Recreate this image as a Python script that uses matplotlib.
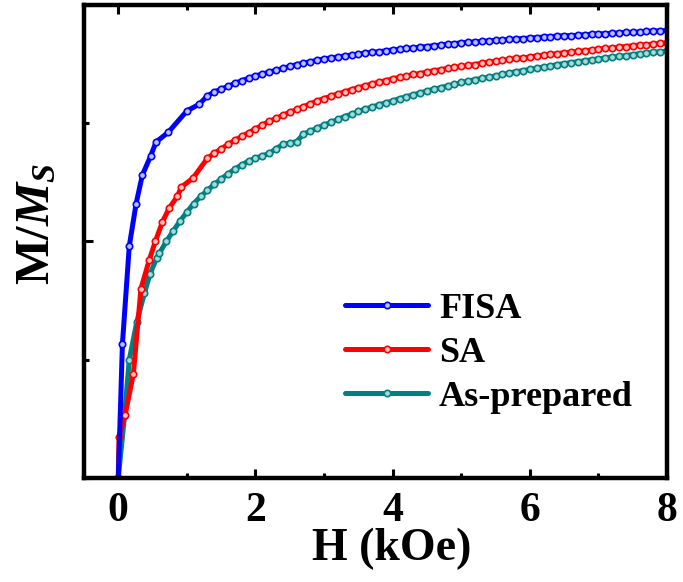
import matplotlib
matplotlib.use("Agg")
import matplotlib.pyplot as plt
from matplotlib.ticker import MultipleLocator

plt.rcParams.update({
    "font.family": "Liberation Serif",
    "font.weight": "bold",
    "mathtext.fontset": "custom",
    "mathtext.rm": "Liberation Serif:bold",
    "mathtext.it": "Liberation Serif:italic:bold",
    "mathtext.bf": "Liberation Serif:bold",
})

BLUE = "#0000FF"; RED = "#FF0000"; TEAL = "#008080"

# ---- data (H in kOe, M/Ms) ----
H_fisa = [0, 0.06, 0.16, 0.26, 0.35, 0.47, 0.55, 0.73, 1.0, 1.18,
          1.3, 1.4, 1.5, 1.6, 1.7, 1.8, 1.9, 2.0, 2.1, 2.2, 2.3, 2.4, 2.5, 2.6, 2.7, 2.8, 2.9,
          3.0, 3.1, 3.2, 3.3, 3.4, 3.5, 3.6, 3.7, 3.8, 3.9, 4.0, 4.1, 4.2, 4.3, 4.4, 4.5, 4.6,
          4.7, 4.8, 4.9, 5.0, 5.1, 5.2, 5.3, 5.4, 5.5, 5.6, 5.7, 5.8, 5.9, 6.0, 6.1, 6.2, 6.3,
          6.4, 6.5, 6.6, 6.7, 6.8, 6.9, 7.0, 7.1, 7.2, 7.3, 7.4, 7.5, 7.6, 7.7, 7.8, 7.9, 8.0]
M_fisa = [0, 0.283, 0.49, 0.58, 0.64, 0.68, 0.71, 0.731, 0.776, 0.79,
          0.808, 0.816, 0.822, 0.828, 0.834, 0.840, 0.845, 0.850, 0.854, 0.858, 0.862, 0.866,
          0.870, 0.874, 0.877, 0.880, 0.883, 0.886, 0.888, 0.890, 0.892, 0.894, 0.896, 0.898,
          0.900, 0.901, 0.903, 0.905, 0.906, 0.908, 0.909, 0.911, 0.912, 0.914, 0.915, 0.917,
          0.918, 0.920, 0.921, 0.922, 0.923, 0.924, 0.925, 0.926, 0.927, 0.928, 0.929, 0.930,
          0.931, 0.932, 0.933, 0.934, 0.935, 0.935, 0.936, 0.937, 0.938, 0.939, 0.939, 0.940,
          0.941, 0.942, 0.942, 0.943, 0.944, 0.945, 0.945, 0.946]

H_sa = [0, 0.01, 0.1, 0.22, 0.33, 0.45, 0.54, 0.64, 0.74, 0.86, 0.92, 1.09,
        1.3, 1.4, 1.5, 1.6, 1.7, 1.8, 1.9, 2.0, 2.1, 2.2, 2.3, 2.4, 2.5, 2.6, 2.7, 2.8, 2.9,
        3.0, 3.1, 3.2, 3.3, 3.4, 3.5, 3.6, 3.7, 3.8, 3.9, 4.0, 4.1, 4.2, 4.3, 4.4, 4.5, 4.6,
        4.7, 4.8, 4.9, 5.0, 5.1, 5.2, 5.3, 5.4, 5.5, 5.6, 5.7, 5.8, 5.9, 6.0, 6.1, 6.2, 6.3,
        6.4, 6.5, 6.6, 6.7, 6.8, 6.9, 7.0, 7.1, 7.2, 7.3, 7.4, 7.5, 7.6, 7.7, 7.8, 7.9, 8.0]
M_sa = [0, 0.087, 0.133, 0.22, 0.40, 0.46, 0.50, 0.54, 0.57, 0.595, 0.615, 0.634,
        0.676, 0.686, 0.696, 0.705, 0.714, 0.722, 0.730, 0.738, 0.746, 0.754, 0.760, 0.767,
        0.773, 0.779, 0.785, 0.791, 0.797, 0.802, 0.807, 0.812, 0.816, 0.821, 0.825, 0.829,
        0.833, 0.837, 0.840, 0.844, 0.847, 0.850, 0.853, 0.855, 0.858, 0.861, 0.863, 0.866,
        0.868, 0.870, 0.872, 0.874, 0.877, 0.879, 0.881, 0.883, 0.885, 0.887, 0.888, 0.890,
        0.892, 0.894, 0.896, 0.897, 0.899, 0.900, 0.902, 0.903, 0.905, 0.907, 0.908, 0.909,
        0.911, 0.912, 0.914, 0.915, 0.916, 0.917, 0.919, 0.920]

H_asp = [0, 0.09, 0.16, 0.27, 0.38, 0.46, 0.56,
         0.6, 0.7, 0.8, 0.9, 1.0, 1.1, 1.2, 1.3, 1.4, 1.5, 1.6, 1.7, 1.8, 1.9, 2.0, 2.1, 2.2,
         2.3, 2.4, 2.5, 2.6, 2.7, 2.8, 2.9, 3.0, 3.1, 3.2, 3.3, 3.4, 3.5, 3.6, 3.7, 3.8, 3.9,
         4.0, 4.1, 4.2, 4.3, 4.4, 4.5, 4.6, 4.7, 4.8, 4.9, 5.0, 5.1, 5.2, 5.3, 5.4, 5.5, 5.6,
         5.7, 5.8, 5.9, 6.0, 6.1, 6.2, 6.3, 6.4, 6.5, 6.6, 6.7, 6.8, 6.9, 7.0, 7.1, 7.2, 7.3,
         7.4, 7.5, 7.6, 7.7, 7.8, 7.9, 8.0]
M_asp = [0, 0.13, 0.25, 0.33, 0.39, 0.43, 0.465,
         0.475, 0.50, 0.522, 0.543, 0.562, 0.580, 0.595, 0.608, 0.621, 0.632, 0.643, 0.653,
         0.662, 0.670, 0.676, 0.681, 0.686, 0.696, 0.705, 0.708, 0.711, 0.727, 0.733, 0.740,
         0.746, 0.752, 0.758, 0.764, 0.769, 0.775, 0.780, 0.784, 0.789, 0.793, 0.797, 0.802,
         0.806, 0.810, 0.814, 0.818, 0.822, 0.825, 0.829, 0.832, 0.836, 0.839, 0.842, 0.845,
         0.847, 0.850, 0.853, 0.856, 0.859, 0.861, 0.864, 0.866, 0.869, 0.871, 0.874, 0.876,
         0.878, 0.880, 0.882, 0.884, 0.886, 0.888, 0.890, 0.891, 0.893, 0.895, 0.897, 0.898,
         0.900, 0.901, 0.903]

series = [("FISA", H_fisa, M_fisa, BLUE, "#b8c0ff"),
          ("SA", H_sa, M_sa, RED, "#ffc0c0"),
          ("As-prepared", H_asp, M_asp, TEAL, "#a8d8d8")]

fig = plt.figure(figsize=(6.83, 5.82), dpi=100)
ax = fig.add_axes([0.123, 0.179, 0.8536, 0.8125])

for name, h, m, c, fc in reversed(series):
    ax.plot(h, m, color=c, lw=3.6, marker="o", ms=4.6, mfc=fc, mec=c, mew=1.2,
            label=name, solid_capstyle="round")

ax.set_xlim(-0.5, 8)
ax.set_ylim(0, 1)
ax.xaxis.set_major_locator(MultipleLocator(2))
ax.xaxis.set_minor_locator(MultipleLocator(1))
ax.yaxis.set_major_locator(MultipleLocator(0.5))
ax.yaxis.set_minor_locator(MultipleLocator(0.25))
ax.tick_params(which="both", direction="in", top=True, right=False, width=2.2)
ax.tick_params(which="major", length=6.5)
ax.tick_params(which="minor", length=3.6)
ax.tick_params(axis="x", labelsize=30, pad=10)
ax.tick_params(axis="y", labelleft=False)
for s in ax.spines.values():
    s.set_linewidth(3.2)

fig.text(392 / 683, 1 - 549 / 582, "H (kOe)", fontsize=33, fontweight="bold",
         ha="center", va="center")
fig.text(37 / 683, 1 - 224 / 582, r"M/$M_S$", fontsize=35, fontweight="bold",
         rotation=90, ha="center", va="center")

handles, labels = ax.get_legend_handles_labels()
ax.legend(handles[::-1], labels[::-1], loc="upper left", bbox_to_anchor=(0.448, 0.392),
          frameon=False, borderpad=0, borderaxespad=0,
          handlelength=2.3, handletextpad=0.3, labelspacing=0.3,
          numpoints=1, prop={"weight": "bold", "size": 26})

fig.savefig("out.png", dpi=100)
